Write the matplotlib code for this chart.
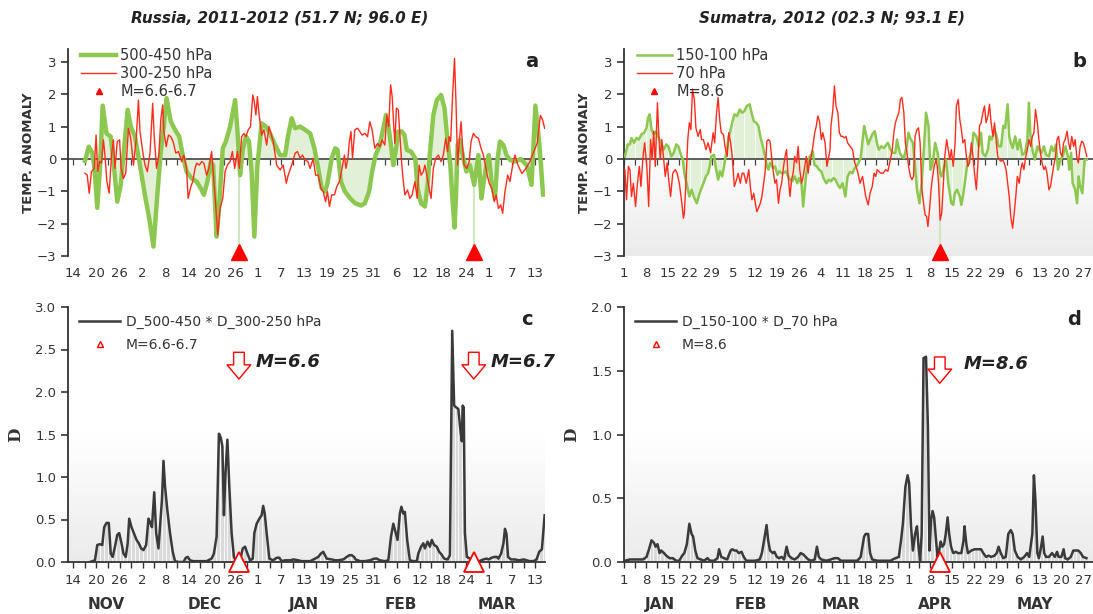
import numpy as np
import pandas as pd
import matplotlib
matplotlib.use("Agg")
import matplotlib.pyplot as plt
from matplotlib.lines import Line2D
from matplotlib.patches import FancyArrowPatch

plt.rcParams['font.family'] = ['DejaVu Sans']

# ---------------- data: Russia (days from 2011-11-14) ----------------
ru_start = '2011-11-14'
ru_events = [43, 104]
ru_event_text = ['M=6.6', 'M=6.7']

ru_lo_day = [3.0, 4.0, 4.9, 5.5, 6.2, 6.9, 7.6, 8.6, 9.7, 10.5, 11.4, 12.3, 13.1, 14.1, 14.9, 16.0,
             17.3, 18.6, 19.7, 20.8, 21.8, 22.7, 23.5, 24.2, 25.3, 26.4, 27.5, 28.4, 29.4, 30.7,
             32.0, 33.1, 33.9, 34.8, 35.7, 36.3, 37.2, 37.9, 38.8, 39.6, 40.7, 42.0, 42.6, 43.3,
             44.0, 44.8, 45.6, 46.3, 47.0, 47.8, 48.9, 50.0, 51.1, 52.4, 53.7, 55.0, 55.8, 56.7,
             57.6, 58.9, 60.2, 61.5, 62.6, 63.6, 64.5, 65.4, 66.0, 67.1, 68.0, 68.6, 69.5, 70.5,
             71.9, 73.2, 74.7, 75.7, 76.8, 77.6, 78.5, 79.6, 80.5, 81.2, 81.8, 82.5, 83.1, 83.7,
             84.4, 85.3, 86.0, 86.6, 87.7, 88.8, 89.4, 90.3, 91.3, 92.1, 92.6, 93.5, 94.4, 95.5,
             96.4, 97.2, 97.9, 98.5, 99.0, 99.4, 99.8, 100.4, 101.3, 102.1, 103.0, 104.1, 105.2,
             106.0, 106.6, 107.3, 107.9, 108.6, 109.5, 110.2, 110.8, 111.7, 112.5, 113.4, 114.7,
             116.2, 117.8, 119.0, 120.0, 121.0, 122.0]
ru_lo_val = [-0.06, 0.38, 0.2, -0.29, -1.51, -0.29, 1.65, 0.79, 0.69, -0.19, -1.32, -0.8, 0.23, 1.52,
             1.0, 0.69, -0.19, -1.13, -1.84, -2.71, -1.11, 0.23, 1.05, 1.88, 1.16, 0.9, 0.69, 0.12,
             -0.39, -0.6, -0.7, -0.91, -1.11, -0.7, -0.08, -0.19, -2.4, -1.42, 0.33, 0.54, 1.0, 1.82,
             0.9, -0.5, 0.3, 0.7, 0.55, -0.4, -2.4, -0.19, 1.1, 1.0, 0.79, 0.43, 0.12, 0.12, 0.74,
             1.26, 0.95, 1.0, 0.9, 0.79, 0.33, -0.29, -0.91, -1.01, -0.75, 0.02, 0.33, 0.28, -0.7,
             -1.0, -1.22, -1.37, -1.44, -1.37, -1.01, -0.39, 0.12, 0.43, 0.95, 1.36, 1.05, 0.43,
             -0.19, 0.23, 0.85, 0.85, 0.74, 0.28, 0.23, 0.02, -0.91, -1.37, -1.47, -0.7, 0.18, 1.36,
             1.82, 1.98, 1.57, 0.54, -0.19, -1.32, -2.12, -1.1, 0.43, 0.59, 0.02, -0.39, -0.19, -0.8,
             0.12, -1.22, -0.7, -0.19, 0.12, -0.7, -1.22, 0.02, 0.54, 0.43, 0.12, -0.03, -0.08, 0.0,
             -0.2, -0.8, 1.65, 0.5, -1.1]

ru_hi_day = [3.0, 3.6, 4.1, 4.7, 5.4, 5.9, 6.3, 6.8, 7.3, 7.8, 8.2, 8.7, 9.3, 9.9, 10.4, 10.8, 11.4,
             12.0, 12.4, 13.0, 13.6, 14.3, 14.9, 15.6, 16.3, 16.9, 17.3, 18.0, 18.6, 19.2, 19.9,
             20.6, 21.0, 21.6, 22.2, 22.7, 23.2, 23.5, 24.1, 24.7, 25.3, 25.9, 26.6, 27.3, 28.1,
             28.7, 29.4, 29.8, 30.5, 31.0, 31.6, 32.0, 32.7, 33.3, 33.9, 34.6, 35.2, 35.9, 36.3,
             36.9, 37.5, 38.1, 38.8, 39.4, 40.0, 40.7, 41.3, 41.9, 42.6, 43.1, 43.7, 44.3, 44.8,
             45.4, 46.0, 46.6, 47.0, 47.4, 47.8, 48.2, 48.9, 49.5, 50.2, 50.8, 51.3, 51.9, 52.8,
             53.7, 54.5, 55.3, 55.8, 56.7, 57.6, 58.2, 58.9, 59.5, 60.2, 60.9, 61.5, 62.3, 62.9,
             63.6, 64.3, 64.9, 65.5, 66.0, 66.5, 67.1, 67.8, 68.4, 69.1, 69.7, 70.4, 70.8, 71.3,
             71.7, 72.1, 72.5, 73.1, 73.8, 74.4, 75.0, 75.7, 76.4, 77.0, 77.6, 78.3, 79.0, 79.6,
             80.2, 80.9, 81.4, 81.9, 82.4, 82.8, 83.2, 83.5, 83.9, 84.4, 84.8, 85.3, 85.7, 86.1,
             86.8, 87.4, 88.0, 88.7, 89.3, 89.8, 90.3, 90.9, 91.3, 91.8, 92.4, 92.9, 93.5, 94.1,
             94.8, 95.5, 96.1, 96.7, 97.2, 97.6, 98.0, 98.5, 99.0, 99.4, 99.8, 100.3, 100.7, 101.1,
             101.5, 102.2, 102.8, 103.3, 103.9, 104.5, 105.2, 105.9, 106.5, 107.0, 107.5, 108.0,
             108.7, 109.3, 109.8, 110.4, 111.0, 111.5, 112.1, 112.8, 113.4, 114.1, 114.7, 115.5,
             116.5, 117.5, 118.5, 119.5, 120.5, 121.3, 121.9, 122.4]
ru_hi_val = [-0.44, -0.5, -1.06, -0.39, -0.29, 0.74, -0.39, -0.08, -0.13, 0.59, 0.12, -0.7, -1.06,
             0.12, 0.59, -0.29, 0.54, 0.59, -0.29, -0.6, -0.44, 0.95, 0.64, -0.19, 0.59, 1.82, 0.85,
             0.23, -0.19, -0.39, 0.18, 1.72, 0.69, -0.29, 0.12, 1.21, 1.67, 0.85, 0.38, 0.74, 0.69,
             0.54, 0.18, 0.23, -0.08, 0.12, -0.29, -1.22, -0.86, -0.7, -0.29, -0.13, -0.19, -0.08,
             -0.13, -0.5, -0.29, 0.23, -0.39, -1.32, -2.35, -1.53, -1.22, -0.39, -0.19, -0.08, 0.23,
             -0.29, 0.23, -0.29, 0.69, 0.79, 0.69, 0.9, 1.0, 1.98, 1.77, 1.36, 1.93, 1.41, 0.74, 0.9,
             0.43, 1.0, 0.8, 0.54, -0.19, -0.34, -0.19, -0.75, -0.5, -0.19, 0.18, 0.23, 0.02, 0.12,
             -0.03, -0.08, -0.29, 0.02, -0.5, -0.5, -0.91, -1.01, -1.32, -1.01, -1.47, -1.11, -1.11,
             -0.86, -0.7, -0.34, 0.12, -0.29, 0.02, 0.54, 0.85, 0.02, 0.9, 0.95, 0.85, 0.74, 0.79,
             0.69, 1.15, 0.9, 0.33, 0.48, 0.38, 0.59, 0.43, 1.36, 1.0, 2.29, 1.93, 1.05, 0.48, 1.57,
             1.52, 0.74, -0.19, -0.7, -1.11, -0.96, -1.22, -1.11, -0.7, -1.22, -0.19, -0.5, -0.39,
             -0.19, -0.5, -0.91, -1.22, -0.29, 0.02, 0.12, -0.08, 0.12, 0.64, 0.23, 0.69, 0.54, 1.98,
             3.11, 1.67, -0.19, 0.64, 1.15, 0.33, -0.19, -0.29, -0.08, 0.54, 0.79, 0.69, 0.64, 0.33,
             0.12, -0.19, -0.5, -0.75, -0.91, -1.32, -1.11, -1.53, -1.42, -1.68, -1.01, -0.5, -0.7,
             -0.19, 0.12, -0.2, -0.45, -0.3, -0.1, 0.2, 0.5, 1.35, 1.2, 0.95]

ru_d_day = [4.3, 5.6, 6.2, 6.9, 7.5, 8.0, 8.6, 9.2, 9.7, 10.2, 10.8, 11.4, 11.9, 12.5, 13.0, 13.6,
            14.1, 14.5, 15.1, 15.7, 16.4, 17.0, 17.6, 18.2, 18.9, 19.5, 19.9, 20.4, 21.0, 21.5,
            22.1, 22.5, 23.0, 23.4, 23.8, 24.4, 25.1, 25.8, 26.4, 27.3, 28.6, 29.2, 29.7, 30.3,
            31.1, 32.9, 34.6, 35.9, 36.5, 37.2, 37.8, 38.3, 38.7, 39.1, 39.5, 40.0, 40.5, 41.1,
            41.7, 42.4, 43.3, 44.0, 44.6, 45.2, 45.9, 46.6, 47.0, 47.6, 48.3, 48.9, 49.3, 49.7,
            50.2, 50.9, 51.9, 52.8, 53.5, 54.1, 55.0, 56.3, 57.2, 58.4, 59.3, 60.2, 61.5, 62.8,
            63.6, 64.3, 64.9, 65.8, 67.1, 68.0, 68.8, 70.1, 71.0, 71.7, 72.3, 72.9, 73.3, 74.5,
            75.7, 77.0, 78.2, 78.8, 79.6, 80.9, 81.8, 82.5, 83.1, 83.5, 84.2, 84.8, 85.2, 85.7,
            86.1, 86.7, 87.4, 88.3, 89.2, 89.6, 90.3, 90.9, 91.3, 92.0, 92.6, 93.1, 93.7, 94.4,
            95.0, 95.6, 96.3, 97.2, 97.8, 98.4, 98.9, 99.4, 100.0, 100.6, 100.9, 101.1, 101.4,
            101.7, 102.2, 103.0, 103.6, 104.3, 105.0, 105.9, 106.5, 107.3, 107.9, 108.6, 109.4,
            110.0, 110.4, 111.1, 111.7, 112.1, 112.5, 112.9, 113.7, 114.7, 115.7, 117.0, 118.5,
            119.5, 120.3, 121.0, 121.7, 122.4]
ru_d_val = [0.0, 0.02, 0.2, 0.21, 0.2, 0.41, 0.46, 0.46, 0.1, 0.06, 0.18, 0.32, 0.34, 0.22, 0.1,
            0.06, 0.22, 0.51, 0.41, 0.34, 0.26, 0.22, 0.16, 0.14, 0.2, 0.51, 0.47, 0.41, 0.82, 0.34,
            0.16, 0.41, 0.73, 1.19, 0.89, 0.61, 0.34, 0.12, 0.01, 0.0, 0.0, 0.05, 0.06, 0.02, 0.01,
            0.01, 0.01, 0.04, 0.1, 0.3, 1.51, 1.46, 1.36, 0.55, 1.04, 1.44, 0.89, 0.34, 0.06, 0.0,
            0.02, 0.16, 0.18, 0.1, 0.02, 0.04, 0.34, 0.45, 0.51, 0.55, 0.66, 0.57, 0.34, 0.04, 0.02,
            0.05, 0.05, 0.01, 0.02, 0.02, 0.03, 0.02, 0.01, 0.01, 0.01, 0.04, 0.06, 0.1, 0.12, 0.04,
            0.03, 0.02, 0.02, 0.03, 0.06, 0.08, 0.08, 0.06, 0.03, 0.01, 0.01, 0.02, 0.04, 0.04,
            0.02, 0.01, 0.02, 0.3, 0.45, 0.38, 0.26, 0.57, 0.65, 0.57, 0.59, 0.26, 0.02, 0.01, 0.01,
            0.1, 0.18, 0.22, 0.16, 0.24, 0.18, 0.26, 0.2, 0.18, 0.12, 0.09, 0.04, 0.03, 0.08, 2.72,
            1.84, 1.82, 1.8, 1.52, 1.42, 1.84, 1.82, 0.34, 0.06, 0.04, 0.03, 0.01, 0.0, 0.02, 0.03,
            0.04, 0.03, 0.05, 0.06, 0.06, 0.04, 0.1, 0.22, 0.39, 0.33, 0.06, 0.03, 0.03, 0.02, 0.03,
            0.01, 0.01, 0.03, 0.12, 0.15, 0.55]

# ---------------- data: Sumatra (days from 2012-01-01) ----------------
su_start = '2012-01-01'
su_events = [101]
su_event_text = ['M=8.6']

su_lo_day = [0.3, 1.2, 1.9, 2.4, 3.2, 4.0, 4.7, 5.6, 6.4, 7.2, 7.7, 8.2, 8.8, 9.5, 10.3, 11.1, 11.9,
             12.7, 13.5, 14.2, 15.1, 15.9, 16.7, 17.4, 18.0, 18.8, 19.3, 20.1, 20.9, 21.6, 22.5,
             23.3, 24.0, 24.8, 25.4, 26.2, 26.9, 27.5, 27.9, 28.8, 29.3, 30.1, 30.7, 31.4, 32.0,
             32.8, 33.5, 34.0, 34.6, 35.3, 36.2, 37.0, 37.8, 38.5, 39.3, 40.2, 40.9, 41.5, 42.3,
             43.0, 43.6, 44.4, 45.1, 45.7, 46.2, 46.7, 47.6, 48.3, 49.1, 49.7, 50.4, 50.9, 51.8,
             52.5, 53.1, 53.8, 54.6, 55.4, 56.0, 56.8, 57.3, 57.8, 58.3, 58.9, 59.4, 59.9, 60.4,
             60.9, 61.7, 62.3, 63.1, 63.8, 64.7, 65.5, 66.2, 67.0, 67.6, 68.4, 69.1, 69.9, 70.8,
             71.5, 72.3, 73.1, 73.7, 74.7, 75.7, 76.8, 77.3, 78.1, 78.7, 79.4, 80.2, 81.0, 81.5,
             82.3, 83.1, 84.0, 84.4, 85.2, 86.0, 86.8, 87.3, 88.2, 88.9, 89.5, 90.3, 91.0, 91.5,
             92.4, 93.1, 93.7, 94.5, 95.2, 96.0, 96.6, 97.4, 98.0, 98.5, 99.0, 99.5, 100.3, 101.1,
             101.6, 102.4, 103.0, 103.7, 104.2, 104.7, 105.3, 105.8, 106.5, 107.4, 107.9, 108.4,
             109.0, 109.7, 110.6, 111.1, 111.8, 112.7, 113.5, 114.2, 114.7, 115.6, 116.4, 116.9,
             117.6, 118.5, 119.2, 119.8, 120.6, 121.3, 121.9, 122.7, 123.2, 123.7, 124.3, 125.1,
             125.9, 126.6, 127.4, 128.3, 129.0, 129.5, 130.0, 130.6, 131.4, 132.2, 132.7, 133.5,
             134.3, 135.0, 135.9, 136.7, 137.4, 138.2, 138.8, 139.6, 140.3, 141.2, 142.0, 142.4,
             143.0, 143.5, 144.3, 144.9, 145.4, 145.9, 146.6, 147.3, 148.0]
su_lo_val = [0.08, 0.45, 0.45, 0.65, 0.5, 0.65, 0.6, 0.76, 0.81, 0.96, 1.27, 1.38, 0.91, 0.76, 0.86,
             0.65, 0.5, 0.29, 0.45, 0.39, 0.08, 0.19, 0.45, 0.39, 0.19, -0.02, -0.44, -0.8, -1.16,
             -0.95, -1.21, -1.37, -1.11, -0.9, -0.75, -0.54, -0.44, -0.18, 0.08, 0.13, -0.23, -0.64,
             -0.38, -0.54, -0.23, 0.24, 0.7, 0.86, 1.12, 1.38, 1.33, 1.53, 1.43, 1.48, 1.64, 1.69,
             1.38, 1.17, 1.12, 1.02, 0.7, 0.39, 0.08, -0.23, -0.33, -0.12, -0.28, -0.23, -0.49,
             -0.38, -0.44, -0.44, -0.38, -0.54, -0.64, -0.69, -0.54, -0.75, -0.59, -0.8, -1.47,
             -0.95, -0.44, -0.12, 0.08, 0.13, 0.24, -0.18, -0.23, -0.33, -0.38, -0.59, -0.75, -0.64,
             -0.69, -0.59, -0.64, -0.8, -0.9, -0.75, -1.16, -0.55, -0.4, -0.44, -0.3, -0.18, 0.03,
             1.02, 0.81, 0.45, 0.6, 0.76, 0.86, 0.45, 0.29, 0.39, 0.34, 0.45, 0.5, 0.29, 0.19, 0.19,
             0.6, 0.19, 0.08, 0.03, 0.34, 0.81, 0.65, 0.5, -0.23, -0.95, -1.37, -0.75, 0.45, 1.43,
             1.02, -0.33, -0.23, 0.08, 0.5, 0.19, -0.44, -0.54, -0.23, -0.02, -0.75, -1.06, -1.37,
             -1.42, -1.06, -0.95, -1.16, -1.42, -1.16, -0.75, -0.23, 0.08, 0.19, 0.81, 0.7, 0.39,
             0.81, 0.19, 0.08, 0.29, 0.7, 0.6, 0.91, 0.7, 0.39, 0.39, 1.02, 0.96, 1.69, 0.7, 0.5,
             0.34, 0.7, 0.29, 0.6, 0.13, 0.19, 0.6, 1.74, 0.7, 0.29, -0.02, 0.39, 0.29, 0.19, 0.39,
             0.13, 0.08, 0.39, 0.24, 0.45, -0.33, -0.02, 0.08, 0.39, 0.08, -0.33, 0.19, -0.75,
             -0.95, -1.37, -0.54, -0.85, -1.06, -0.02, -0.02]

su_hi_day = [0.3, 0.8, 1.4, 1.9, 2.4, 3.0, 3.7, 4.3, 4.9, 5.4, 6.1, 6.6, 7.3, 7.9, 8.5, 9.0, 9.5,
             10.0, 10.7, 11.1, 11.6, 12.1, 12.8, 13.2, 13.8, 14.3, 14.9, 15.6, 16.4, 17.0, 17.7,
             18.5, 19.0, 19.3, 19.8, 20.4, 20.9, 21.4, 21.9, 22.5, 23.0, 23.7, 24.4, 24.8, 25.4,
             26.2, 26.9, 27.7, 28.5, 29.0, 29.6, 30.1, 30.6, 31.1, 31.8, 32.3, 33.0, 33.5, 34.1,
             34.6, 35.3, 36.0, 36.5, 37.2, 37.8, 38.3, 39.1, 39.9, 40.4, 40.9, 41.5, 42.0, 42.5,
             43.0, 43.6, 44.1, 45.1, 45.7, 46.2, 46.7, 47.3, 47.8, 48.3, 48.8, 49.4, 49.9, 50.4,
             50.9, 51.5, 52.0, 52.5, 53.1, 53.6, 54.1, 54.6, 55.2, 55.7, 56.2, 56.8, 57.3, 57.8,
             58.3, 58.9, 59.4, 59.9, 60.4, 61.0, 61.5, 62.0, 62.6, 63.1, 63.6, 64.3, 64.9, 65.5,
             65.9, 66.2, 66.8, 67.3, 67.8, 68.4, 68.9, 69.4, 69.9, 70.5, 71.0, 71.5, 72.3, 73.1,
             73.8, 74.7, 75.5, 76.3, 76.8, 77.3, 78.1, 78.7, 79.4, 80.0, 80.5, 81.0, 81.5, 82.1,
             82.9, 83.7, 84.4, 85.2, 85.8, 86.3, 86.8, 87.3, 87.9, 88.4, 88.9, 89.5, 90.0, 90.5,
             91.0, 91.6, 92.1, 92.6, 93.1, 93.7, 94.2, 94.7, 95.3, 95.8, 96.3, 96.8, 97.2, 97.7,
             98.2, 98.7, 99.2, 99.8, 100.2, 100.6, 101.1, 101.6, 102.1, 102.6, 103.2, 103.7,
             104.2, 104.7, 105.3, 105.9, 106.3, 106.9, 107.4, 107.9, 108.4, 109.0, 109.5, 110.0,
             110.5, 111.1, 111.6, 112.1, 112.7, 113.2, 113.7, 114.2, 114.8, 115.3, 115.8, 116.4,
             116.9, 117.4, 118.0, 118.5, 119.0, 119.5, 120.0, 120.6, 121.1, 121.6, 122.2, 122.7,
             123.2, 123.7, 124.3, 124.8, 125.3, 125.8, 126.4, 126.9, 127.4, 127.9, 128.5, 129.0,
             129.5, 130.1, 130.6, 131.1, 131.6, 132.2, 132.7, 133.2, 133.7, 134.3, 134.8, 135.3,
             135.9, 136.4, 136.9, 137.4, 138.0, 138.5, 139.0, 139.6, 140.1, 140.6, 141.1, 141.7,
             142.2, 142.7, 143.2, 143.8, 144.3, 144.8, 145.3, 145.9, 146.4, 146.9, 147.5, 148.0]
su_hi_val = [-0.33, -1.26, -0.23, -0.33, -1.16, -0.75, -1.47, -0.75, -0.23, -0.85, 0.08, 0.5, -0.23,
             -1.47, 0.6, -0.02, 0.86, -0.23, 1.74, 0.81, -0.02, 0.6, -0.12, -0.54, -0.12, -0.64,
             -1.16, -0.44, -0.33, -0.44, -0.75, -1.37, -1.83, -1.68, -0.75, 0.6, 1.12, 0.91, 2.16,
             1.84, 0.96, 0.7, 0.91, 0.6, 0.6, 0.29, 0.5, 0.19, 0.81, 0.5, 1.43, 1.9, 1.22, 0.81,
             0.76, 0.39, 0.08, 0.81, 0.5, 0.08, -0.85, -0.64, -0.44, -0.75, -0.44, -0.44, -0.75,
             -0.33, -0.85, -1.26, -1.06, -1.37, -1.63, -1.52, -1.37, -1.16, -0.44, 0.55, 0.6, 0.55,
             -0.02, -0.44, -0.75, -0.64, -1.37, -0.95, -0.75, -0.33, 0.08, 0.29, -0.54, -1.16,
             -0.64, -0.44, 0.08, -0.12, 0.39, -0.33, -0.75, -0.54, -0.23, 0.08, -0.44, -0.02, 0.08,
             0.39, 0.81, 1.02, 1.33, 1.12, 0.6, 0.81, 0.5, -0.23, 0.08, 0.29, 1.02, 1.53, 2.26, 1.64,
             1.43, 0.81, 0.7, 0.7, 0.65, 0.7, 0.5, 0.39, 0.29, -0.12, -0.38, -0.75, -0.54, -0.85,
             -1.16, -1.42, -1.06, -0.85, -0.44, -0.54, -0.33, -0.38, -0.44, -0.44, -0.33, -0.38,
             -0.02, 0.29, 0.81, 1.12, 1.27, 1.43, 1.84, 1.9, 1.43, 0.5, 0.19, -0.23, -0.54, -0.64,
             -0.54, 0.7, 0.91, 0.96, 0.5, -0.95, -1.37, -1.73, -1.78, -2.09, -1.58, -0.95, -0.54,
             -0.23, -0.02, -0.23, -0.75, -1.89, -1.68, -0.85, 0.08, 0.6, 0.29, -0.02, 0.29, -0.23,
             0.5, 1.64, 1.84, 1.22, 0.91, 0.5, 0.6, 0.08, -0.23, -0.12, 0.5, 0.08, -0.44, -0.95,
             -0.12, 1.02, 1.12, 1.43, 1.64, 1.12, 1.33, 1.69, 1.12, 0.7, 1.12, 0.6, 0.08, -0.02,
             -0.07, -0.02, -0.12, -0.33, -0.75, -1.16, -1.78, -2.14, -1.68, -1.16, -0.54, -0.75,
             -0.33, -0.12, -0.33, 0.08, 0.29, 0.6, 0.39, 0.7, 0.81, 1.53, 1.12, 0.6, 0.19, -0.12,
             -0.33, -0.23, -0.44, -0.95, -0.85, -0.54, -0.23, 0.08, 0.6, 0.7, 0.19, 0.08, 0.5, 0.6,
             0.86, 0.5, 0.29, 0.7, 0.39, 0.6, 0.08, -0.12, 0.39, 0.55, 0.5, 0.29, 0.08]

su_d_day = [0.3, 1.9, 3.5, 5.1, 6.1, 7.2, 8.0, 8.8, 9.6, 10.1, 10.7, 11.4, 11.9, 12.8, 13.5, 14.6,
            15.6, 16.7, 17.7, 18.6, 19.3, 20.1, 20.9, 21.6, 22.1, 22.8, 23.5, 24.6, 25.6, 26.7,
            27.5, 28.8, 29.9, 30.4, 31.1, 32.0, 33.0, 34.1, 34.6, 35.3, 36.0, 36.7, 37.6, 38.3,
            39.1, 40.4, 42.0, 43.4, 44.1, 44.8, 45.6, 46.1, 46.7, 47.6, 48.1, 48.9, 49.6, 50.4,
            51.2, 52.0, 52.7, 53.6, 54.6, 55.7, 56.5, 57.3, 58.1, 58.9, 59.9, 61.0, 61.7, 62.3,
            63.1, 64.7, 66.2, 67.3, 68.4, 69.4, 71.0, 72.6, 74.6, 75.7, 76.8, 77.3, 78.1, 78.7,
            79.4, 81.0, 83.1, 85.2, 86.8, 87.9, 88.6, 89.2, 90.0, 90.7, 91.2, 91.8, 92.4, 93.1,
            93.7, 94.2, 94.7, 95.2, 95.8, 96.6, 97.2, 97.7, 98.2, 98.7, 99.2, 99.8, 100.3, 100.8,
            101.3, 101.8, 102.4, 102.9, 103.5, 104.0, 104.6, 105.3, 106.1, 106.8, 107.9, 108.6,
            108.9, 109.5, 110.0, 111.1, 112.1, 113.2, 114.2, 114.9, 115.8, 116.6, 117.4, 118.5,
            119.2, 119.8, 120.5, 121.3, 122.1, 122.9, 123.7, 124.3, 125.0, 125.9, 126.9, 128.0,
            128.9, 129.6, 130.6, 131.1, 131.6, 132.2, 132.7, 133.4, 133.9, 134.4, 135.0, 135.9,
            136.9, 137.8, 138.5, 139.0, 139.9, 140.6, 141.1, 141.9, 142.9, 143.7, 144.4, 145.3,
            146.1, 146.8, 147.9]
su_d_val = [0.01, 0.02, 0.02, 0.02, 0.02, 0.04, 0.1, 0.17, 0.15, 0.12, 0.14, 0.07, 0.09, 0.07, 0.05,
            0.03, 0.03, 0.01, 0.01, 0.05, 0.07, 0.14, 0.3, 0.22, 0.2, 0.09, 0.03, 0.02, 0.01, 0.03,
            0.01, 0.01, 0.03, 0.1, 0.04, 0.03, 0.02, 0.09, 0.1, 0.09, 0.09, 0.07, 0.08, 0.04, 0.01,
            0.01, 0.01, 0.02, 0.07, 0.17, 0.29, 0.17, 0.09, 0.07, 0.08, 0.04, 0.03, 0.04, 0.02,
            0.12, 0.05, 0.03, 0.02, 0.04, 0.07, 0.06, 0.04, 0.02, 0.01, 0.02, 0.12, 0.04, 0.02,
            0.01, 0.02, 0.03, 0.03, 0.01, 0.01, 0.01, 0.01, 0.04, 0.2, 0.22, 0.22, 0.07, 0.02, 0.01,
            0.01, 0.01, 0.03, 0.04, 0.17, 0.3, 0.59, 0.68, 0.62, 0.28, 0.09, 0.22, 0.28, 0.12, 0.01,
            0.22, 1.6, 1.61, 1.06, 0.09, 0.33, 0.4, 0.35, 0.17, 0.04, 0.09, 0.16, 0.12, 0.14, 0.22,
            0.35, 0.22, 0.12, 0.07, 0.08, 0.07, 0.07, 0.17, 0.28, 0.14, 0.07, 0.09, 0.1, 0.1, 0.1,
            0.07, 0.04, 0.05, 0.04, 0.05, 0.07, 0.12, 0.07, 0.03, 0.04, 0.22, 0.25, 0.22, 0.09,
            0.04, 0.02, 0.04, 0.07, 0.04, 0.22, 0.68, 0.48, 0.07, 0.03, 0.12, 0.2, 0.07, 0.04, 0.04,
            0.07, 0.04, 0.08, 0.04, 0.04, 0.1, 0.03, 0.02, 0.04, 0.09, 0.09, 0.09, 0.07, 0.04, 0.03]

months_ru = ['NOV', 'DEC', 'JAN', 'FEB', 'MAR']
months_su = ['JAN', 'FEB', 'MAR', 'APR', 'MAY']

GREEN = '#8cc850'
GREEN_FILL = '#e2f0d8'
RED = '#ff2b1c'
DARK = '#3a3a3a'
TXT = '#333333'

W, H = 1093, 614
fig = plt.figure(figsize=(W / 100, H / 100), dpi=100)


def box(l, t, r, b):
    return [l / W, 1 - b / H, (r - l) / W, (b - t) / H]


ax_a = fig.add_axes(box(68, 49, 545, 256))
ax_b = fig.add_axes(box(624, 49, 1093, 256))
ax_c = fig.add_axes(box(68, 307, 545, 562))
ax_d = fig.add_axes(box(624, 307, 1093, 562))


def gradient(ax, bottom='#ebebeb'):
    cm = matplotlib.colors.LinearSegmentedColormap.from_list('g', ['#ffffff', '#ffffff', bottom])
    ax.imshow(np.linspace(0, 1, 256).reshape(-1, 1), extent=(0, 1, 0, 1), transform=ax.transAxes,
              aspect='auto', cmap=cm, zorder=0, interpolation='bilinear')


def stripes(ax, xs, ys, step, xmax):
    # pale vertical lines that show through the filled areas
    pos = np.arange(step, xmax, step)
    ax.vlines(pos, 0, np.interp(pos, xs, ys, left=0, right=0), color='white', lw=0.8, alpha=0.8,
              zorder=2)


def style_axes(ax):
    for s in ['top', 'right']:
        ax.spines[s].set_visible(False)
    ax.spines['left'].set_color(TXT)
    ax.spines['left'].set_linewidth(1.3)
    ax.tick_params(axis='y', colors=TXT, labelsize=9.5, length=5, width=1.2, direction='out')
    ax.tick_params(axis='x', colors=TXT, labelsize=9.5)


def date_labels(start, ticks):
    st = pd.Timestamp(start)
    return [str((st + pd.Timedelta(days=int(t))).day) for t in ticks]


def temp_panel(ax, start, step, minor, xmax, lo_d, lo_v, hi_d, hi_v, lo_lw, events, labels,
               letter, grad):
    if grad:
        gradient(ax)
    style_axes(ax)
    ax.spines['bottom'].set_visible(False)
    ax.fill_between(lo_d, lo_v, 0, color=GREEN_FILL, lw=0, zorder=1)
    if grad:
        stripes(ax, lo_d, lo_v, minor, xmax)
    ax.axhline(0, color='#444444', lw=1.2, zorder=2)
    sec = ax.secondary_xaxis(0, transform=ax.transData)
    sec.set_xticks(np.arange(0, xmax, minor))
    sec.tick_params(length=4, width=0.9, color='#444444', labelbottom=False, direction='out')
    sec.spines['bottom'].set_visible(False)
    ax.vlines(events, -3, np.interp(events, lo_d, lo_v), color='#cfe6bf', lw=1.5, zorder=1)
    ax.plot(lo_d, lo_v, color=GREEN, lw=lo_lw, zorder=3, solid_joinstyle='round')
    ax.plot(hi_d, hi_v, color=RED, lw=1.0, zorder=4)
    ax.plot(events, [-2.88] * len(events), '^', color='#ff0000', ms=11, clip_on=False, zorder=5)
    ticks = np.arange(0, xmax, step)
    ax.set_xticks(ticks)
    ax.set_xticklabels(date_labels(start, ticks))
    ax.tick_params(axis='x', length=0, pad=8)
    ax.set_ylim(-3, 3.4)
    ax.set_yticks(range(-3, 4))
    ax.set_ylabel('TEMP. ANOMALY', fontsize=9.5, fontweight='bold', color=TXT, labelpad=1)
    handles = [Line2D([], [], color=GREEN, lw=lo_lw), Line2D([], [], color=RED, lw=1.0),
               Line2D([], [], ls='none', marker='^', color='#ff0000', ms=5)]
    ax.legend(handles, labels, loc='upper left', frameon=False, fontsize=10.5, handlelength=2.4,
              handletextpad=0.3, borderaxespad=0.1, labelspacing=0.2, bbox_to_anchor=(0.012, 1.04),
              labelcolor=TXT)
    ax.text(0.985, 0.94, letter, transform=ax.transAxes, ha='right', va='center', fontsize=14,
            fontweight='bold', color='#222222')


def d_panel(ax, start, step, minor, xmax, d_d, d_v, ymax, yticks, events, ev_text, labels,
            letter, arrow, months, month_pos):
    gradient(ax)
    style_axes(ax)
    ax.spines['bottom'].set_color(TXT)
    ax.spines['bottom'].set_linewidth(1.3)
    ax.fill_between(d_d, d_v, 0, color='#d9d9d9', lw=0, zorder=1)
    stripes(ax, d_d, d_v, minor / 3, xmax)
    ax.plot(d_d, d_v, color=DARK, lw=1.8, zorder=3)
    ax.plot(events, [0] * len(events), '^', mfc='white', mec='#ff0000', mew=1.3, ms=14,
            clip_on=False, zorder=6)
    for ev, t in zip(events, ev_text):
        ax.add_patch(FancyArrowPatch((ev, arrow[0]), (ev, arrow[1]),
                                     arrowstyle='simple,head_length=0.6,head_width=1.0,tail_width=0.45',
                                     mutation_scale=17, fc='white', ec='#ff0000', lw=1.0, zorder=6))
        ax.text(ev + arrow[3], arrow[2], t, fontsize=13, fontweight='bold', style='italic',
                va='center', ha='left', color='#222222')
    ticks = np.arange(0, xmax, step)
    ax.set_xticks(ticks)
    ax.set_xticklabels(date_labels(start, ticks))
    ax.set_xticks(np.arange(0, xmax, minor), minor=True)
    ax.tick_params(axis='x', which='both', length=4, width=1, color=TXT, pad=5)
    ax.set_ylim(0, ymax)
    ax.set_yticks(yticks)
    ax.set_yticklabels(['%.1f' % v for v in yticks])
    ax.set_ylabel('D', fontsize=12, fontweight='bold', family='DejaVu Serif', color=TXT,
                  labelpad=8)
    handles = [Line2D([], [], color=DARK, lw=1.8),
               Line2D([], [], ls='none', marker='^', mfc='white', mec='#ff0000', ms=5)]
    ax.legend(handles, labels, loc='upper left', frameon=False, fontsize=10, handlelength=3.0,
              handletextpad=0.4, borderaxespad=0.2, labelspacing=0.6, bbox_to_anchor=(0.005, 1.0),
              labelcolor=TXT)
    ax.text(0.975, 0.95, letter, transform=ax.transAxes, ha='right', va='center', fontsize=14,
            fontweight='bold', color='#222222')
    for m, p in zip(months, month_pos):
        ax.text(p, -0.165, m, transform=ax.get_xaxis_transform(), ha='center', va='center',
                fontsize=11, fontweight='bold', color=TXT)


temp_panel(ax_a, ru_start, 6, 3, 123, ru_lo_day, ru_lo_val, ru_hi_day, ru_hi_val, 3.2, ru_events,
           ['500-450 hPa', '300-250 hPa', 'M=6.6-6.7'], 'a', False)
ax_a.set_xlim(-1.4, 122.5)

temp_panel(ax_b, su_start, 7, 3.5, 149, su_lo_day, su_lo_val, su_hi_day, su_hi_val, 1.8, su_events,
           ['150-100 hPa', '70 hPa', 'M=8.6'], 'b', True)
ax_b.set_xlim(0, 150)

d_panel(ax_c, ru_start, 6, 3, 123, ru_d_day, ru_d_val, 3.0, np.arange(0, 3.01, 0.5), ru_events,
        ru_event_text, ['D_500-450 * D_300-250 hPa', 'M=6.6-6.7'], 'c', (2.5, 2.12, 2.35, 4.3),
        months_ru, [8.5, 34, 60, 85, 110])
ax_c.set_xlim(-1.4, 122.5)

d_panel(ax_d, su_start, 7, 3.5, 149, su_d_day, su_d_val, 2.0, np.arange(0, 2.01, 0.5), su_events,
        su_event_text, ['D_150-100 * D_70 hPa', 'M=8.6'], 'd', (1.63, 1.38, 1.55, 7.5),
        months_su, [11.5, 40.5, 69.5, 99.5, 131.5])
ax_d.set_xlim(0, 150)

fig.text(280 / W, 1 - 18 / H, 'Russia, 2011-2012 (51.7 N; 96.0 E)', ha='center', va='center',
         fontsize=11, fontweight='bold', style='italic', color='#222222')
fig.text(832 / W, 1 - 18 / H, 'Sumatra, 2012 (02.3 N; 93.1 E)', ha='center', va='center',
         fontsize=11, fontweight='bold', style='italic', color='#222222')

fig.savefig('out.png', dpi=100)
